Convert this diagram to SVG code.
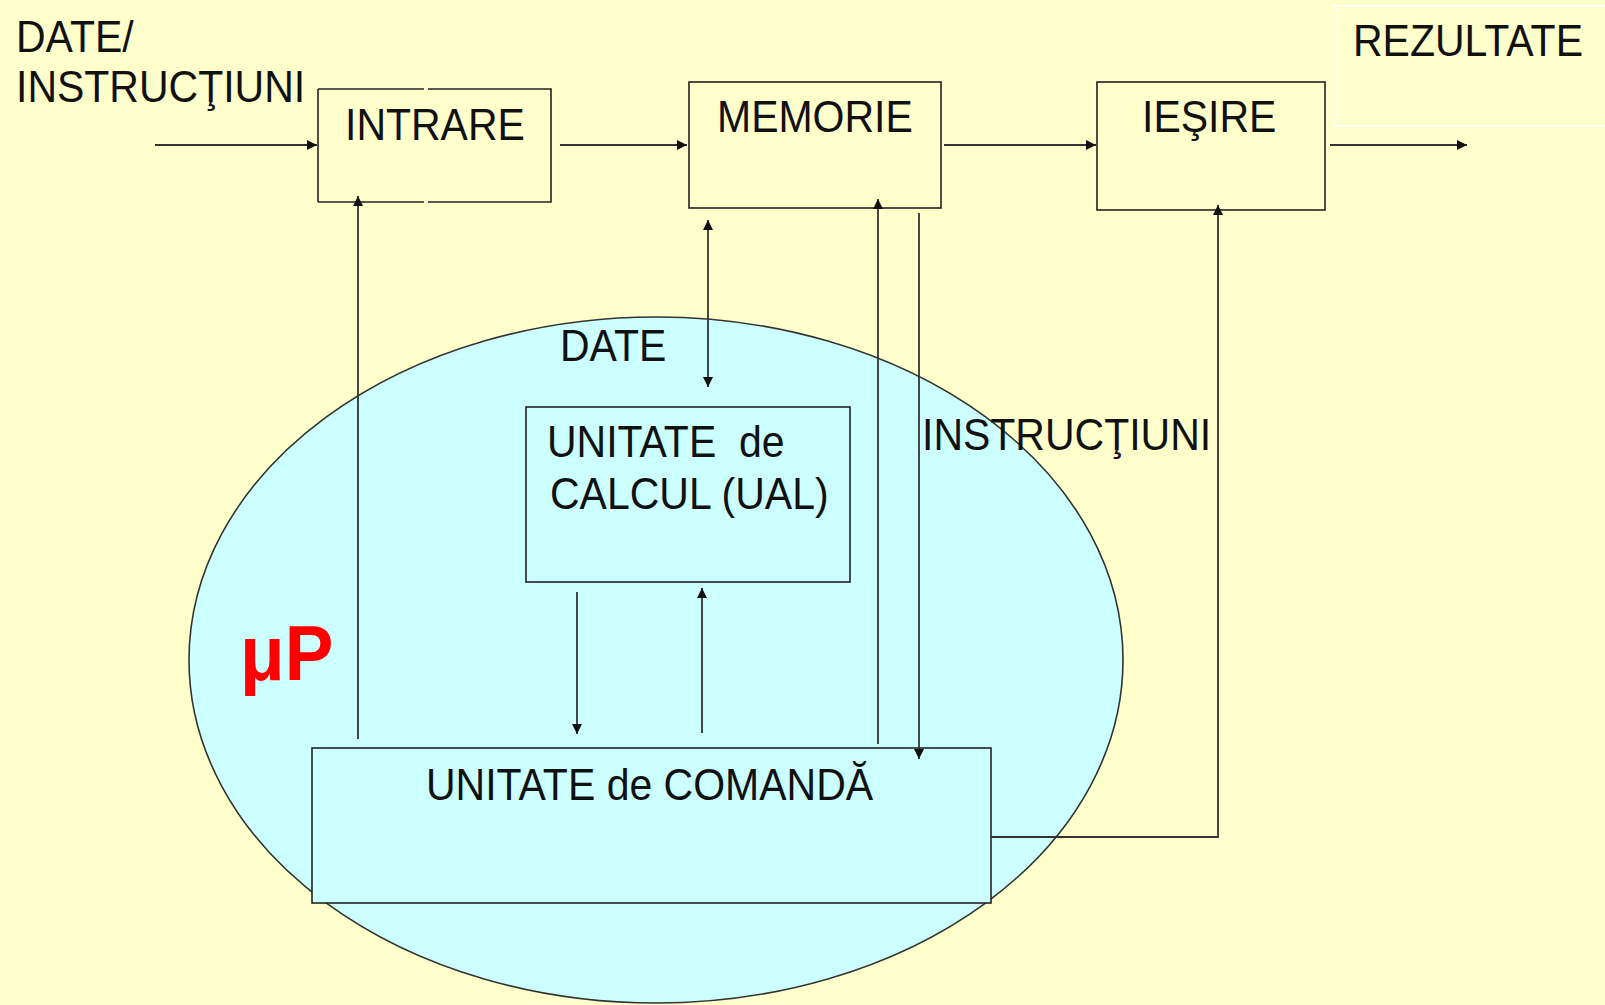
<svg xmlns="http://www.w3.org/2000/svg" width="1605" height="1005" viewBox="0 0 1605 1005">
<defs>
<marker id="ah" viewBox="0 0 10 10" refX="10" refY="5" markerWidth="12" markerHeight="10" markerUnits="userSpaceOnUse" orient="auto-start-reverse">
<path d="M0,0 L10,5 L0,10 z" fill="#111"/>
</marker>
<style>
.t{font-family:"Liberation Sans",Arial,sans-serif;font-size:41px;fill:#111;white-space:pre}
.box{fill:none;stroke:#222;stroke-width:1.6}
.cbox{fill:#CCFFFF;stroke:#222;stroke-width:1.6}
.arr{fill:none;stroke:#333;stroke-width:1.8;marker-end:url(#ah)}
</style>
</defs>
<rect x="0" y="0" width="1605" height="1005" fill="#FFFFCC"/>
<g id="microprocessor">
<ellipse cx="656" cy="660" rx="467" ry="343" fill="#CCFFFF" stroke="#333" stroke-width="1.6"/>
<text transform="translate(240,680) scale(1,1.06)" style="font-family:'Liberation Sans',Arial,sans-serif;font-size:73px;font-weight:bold;fill:#FF0000">μP</text>
</g>
<g id="input-label">
<text class="t" transform="translate(16,52) scale(1,1.08)">DATE/</text>
<text class="t" transform="translate(16,102) scale(1,1.08)">INSTRUCŢIUNI</text>
</g>
<g id="intrare">
<path class="box" d="M318,89 H424 M428,89 H551 V202 H428 M424,202 H318 Z"/>
<path class="box" d="M318,89 V202"/>
<text class="t" transform="translate(345,140) scale(1,1.08)">INTRARE</text>
</g>
<g id="memorie">
<rect class="box" x="689" y="82" width="252" height="126"/>
<text class="t" transform="translate(717,132) scale(1,1.08)">MEMORIE</text>
</g>
<g id="iesire">
<rect class="box" x="1097" y="82" width="228" height="128"/>
<text class="t" transform="translate(1142,132) scale(1,1.08)">IEŞIRE</text>
</g>
<g id="rezultate">
<rect x="1334" y="6" width="280" height="120" fill="none" stroke="#FFFFFF" stroke-width="1.5"/>
<text class="t" transform="translate(1353,56) scale(1,1.08)">REZULTATE</text>
</g>
<g id="ual">
<rect class="cbox" x="526" y="407" width="324" height="175"/>
<text class="t" transform="translate(547,457) scale(1,1.08)">UNITATE  de</text>
<text class="t" transform="translate(550,509) scale(1,1.08)">CALCUL (UAL)</text>
</g>
<g id="comanda">
<rect class="cbox" x="312" y="748" width="679" height="155"/>
<text class="t" transform="translate(426,800) scale(1,1.08)">UNITATE de COMANDĂ</text>
</g>
<g id="labels">
<text class="t" transform="translate(560,361) scale(1,1.08)">DATE</text>
<text class="t" transform="translate(922,450) scale(1,1.08)">INSTRUCŢIUNI</text>
</g>
<g id="connectors">
<line class="arr" x1="155" y1="145" x2="317" y2="145"/>
<line class="arr" x1="560" y1="145" x2="687" y2="145"/>
<line class="arr" x1="944" y1="145" x2="1096" y2="145"/>
<line class="arr" x1="1330" y1="145" x2="1467" y2="145"/>
<line class="arr" x1="708" y1="220" x2="708" y2="387" style="marker-start:url(#ah)"/>
<line class="arr" x1="358" y1="739" x2="358" y2="196"/>
<line class="arr" x1="878" y1="744" x2="878" y2="199"/>
<line class="arr" x1="919" y1="213" x2="919" y2="759"/>
<line class="arr" x1="577" y1="592" x2="577" y2="734"/>
<line class="arr" x1="702" y1="733" x2="702" y2="588"/>
<path class="arr" d="M991,837 H1218 V205"/>
</g>
</svg>
